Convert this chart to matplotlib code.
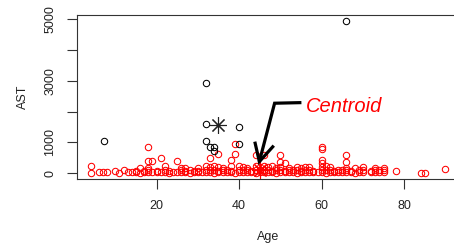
import numpy as np
import matplotlib
matplotlib.use("Agg")
import matplotlib.pyplot as plt

plt.rcParams['font.family'] = ['Liberation Sans', 'DejaVu Sans']

# cluster 1 (red) - low AST band
low_age = [4, 6, 7, 8, 11, 13, 14, 15, 16, 17, 18, 19, 20, 21, 22, 23, 24, 25, 26, 27,
           28, 29, 30, 31, 32, 33, 34, 35, 36, 37, 38, 39, 40, 41, 42, 43, 44, 45, 46, 47,
           48, 49, 50, 51, 52, 53, 54, 55, 56, 57, 58, 59, 60, 61, 62, 63, 64, 65, 66, 67,
           68, 69, 70, 72, 73, 74, 75, 84, 85]
low_ast = [15, 20, 35, 35, 15, 20, 25, 30, 15, 20,
           25, 20, 30, 20, 25, 15, 20, 30, 25, 20,
           15, 30, 25, 20, 30, 25, 15, 20, 30, 25,
           20, 15, 30, 25, 20, 30, 15, 25, 20, 30,
           25, 15, 20, 30, 25, 20, 15, 30, 25, 20,
           30, 25, 20, 15, 30, 25, 20, 30, 25, 20,
           15, 30, 20, 25, 30, 20, 25, 10, 10]

mid_age = [10, 12, 15, 17, 18, 20, 22, 23, 26, 27, 28, 29, 30, 32, 33, 34, 35, 36, 37, 38,
           40, 41, 42, 43, 44, 45, 46, 47, 48, 49, 50, 51, 52, 53, 54, 55, 56, 57, 58, 60,
           61, 62, 63, 64, 65, 66, 67, 69, 70, 72, 73, 74, 75, 78]
mid_ast = [70, 90, 70, 65, 100, 80, 90, 70, 100, 80,
           90, 70, 80, 100, 90, 110, 80, 100, 90, 80,
           100, 90, 110, 80, 100, 90, 110, 100, 80, 90,
           100, 80, 110, 90, 100, 80, 90, 100, 80, 110,
           100, 90, 80, 100, 90, 110, 80, 100, 90, 80,
           100, 90, 110, 65]

up_age = [4, 16, 18, 22, 26, 27, 30, 32, 33, 34, 35, 36, 38, 40, 41, 42, 44, 45, 46, 47,
          48, 49, 50, 52, 54, 55, 56, 57, 60, 61, 62, 66, 68, 70, 73, 75, 90]
up_ast = [240, 150, 160, 240, 150, 160, 150, 240, 200, 240,
          180, 160, 240, 240, 190, 150, 240, 180, 240, 200,
          240, 170, 200, 160, 200, 170, 200, 180, 200, 240,
          180, 150, 150, 200, 150, 150, 120]

high_age = [18, 18, 19, 21, 25, 33, 35, 38, 39, 39, 44, 46, 50, 50, 51, 60, 60, 60, 60, 66, 66]
high_ast = [846, 390, 390, 490, 390, 490, 630, 420, 945, 630, 600, 575, 575, 350, 325,
            846, 780, 420, 315, 575, 370]

# cluster 2 (black)
black_age = [7.3, 32, 32, 32, 33, 34, 34, 40, 40, 66]
black_ast = [1040, 2930, 1580, 1040, 860, 860, 730, 1510, 940, 4945]

# cluster centres
cent_age = [35, 45]
cent_ast = [1550, 100]
cent_col = ['#222222', 'red']

# annotation arrow
arrow_age = [55.1, 48.6, 44.9]
arrow_ast = [2290, 2270, 370]
head_age = [43.8, 44.9, 48.4]
head_ast = [1020, 370, 890]

red_age = low_age + mid_age + up_age + high_age
red_ast = low_ast + mid_ast + up_ast + high_ast

fig = plt.figure(figsize=(4.54, 2.47), dpi=100)
ax = fig.add_axes([77/454, 1 - 179/247, 382/454, 164/247])

ax.plot(red_age, red_ast, 'o', ms=4.6, mfc='none', mec='red', mew=0.75, ls='none')
ax.plot(black_age, black_ast, 'o', ms=4.6, mfc='none', mec='black', mew=0.75, ls='none')
for a, s, c in zip(cent_age, cent_ast, cent_col):
    ax.plot([a], [s], marker=(8, 2, 0), ms=12, mec=c, mew=0.8, ls='none')

ax.plot(arrow_age, arrow_ast, color='black', lw=2.3, solid_capstyle='butt', solid_joinstyle='miter')
ax.plot(head_age, head_ast, color='black', lw=2.3, solid_capstyle='butt', solid_joinstyle='miter')
ax.text(56.2, 2150, 'Centroid', color='red', style='italic', fontsize=14.5, ha='left', va='center')

ax.set_xlim(0.7, 93.3)
ax.set_ylim(-195, 5140)
ax.set_xticks([20, 40, 60, 80])
ax.set_yticks([0, 1000, 2000, 3000, 4000, 5000])
ax.set_yticklabels(['0', '1000', '', '3000', '', '5000'], rotation=90, va='center')
ax.tick_params(direction='out', length=7, width=0.8, labelsize=9, pad=8, color='#333333', labelcolor='#222222')
for sp in ax.spines.values():
    sp.set_linewidth(0.8)
    sp.set_color('#333333')
ax.spines['right'].set_visible(False)
ax.set_xlabel('Age', fontsize=9, labelpad=14, color='#222222')
ax.set_ylabel('AST', fontsize=9, labelpad=11, color='#222222')

fig.savefig('out.png', dpi=100)
